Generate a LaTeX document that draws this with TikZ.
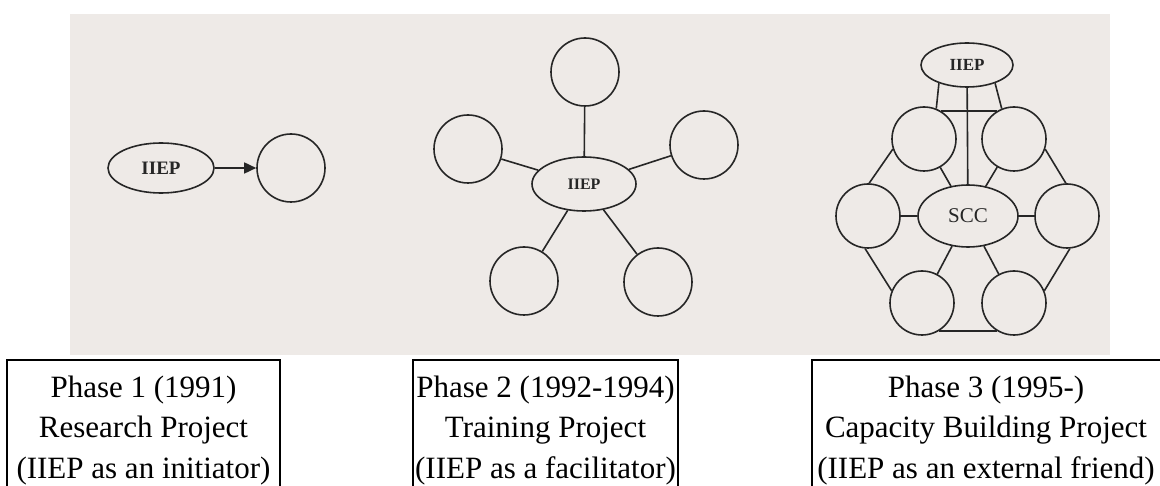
\documentclass[tikz,border=0pt]{standalone}
\usepackage{fontspec}
\setmainfont{Liberation Serif}
\usetikzlibrary{shapes.geometric,arrows.meta}
\definecolor{scan}{RGB}{238,234,231}
\definecolor{ink}{RGB}{38,38,38}
\begin{document}
\begin{tikzpicture}[x=1pt,y=-1pt,
  bub/.style={circle,draw=ink,line width=1.6pt,minimum size=68pt,inner sep=0pt},
  bubs/.style={circle,draw=ink,line width=1.6pt,minimum size=64pt,inner sep=0pt},
  ell/.style={ellipse,draw=ink,line width=1.6pt,inner sep=0pt,text=ink},
  link/.style={draw=ink,line width=1.6pt},
  phasetxt/.style={anchor=base,inner sep=0pt,font=\fontsize{31}{36}\selectfont},
  frame/.style={draw=black,line width=2pt,line join=miter}
]
\useasboundingbox (0,0) rectangle (1160,486);
\fill[scan] (70,14) rectangle (1110,355);

% Phase 1
\node[ell,minimum width=106pt,minimum height=50pt,font=\fontsize{19}{19}\selectfont\bfseries] (e1) at (161,168) {IIEP};
\node[bub] (c1) at (291,168) {};
\draw[link,-{Triangle[length=12pt,width=11pt]}] (e1) -- (c1);

% Phase 2
\node[ell,minimum width=104pt,minimum height=54pt,font=\fontsize{16}{16}\selectfont\bfseries] (e2) at (584,184) {IIEP};
\node[bub] (t2) at (585,72) {};
\node[bub] (l2) at (468,149) {};
\node[bub] (r2) at (704,145) {};
\node[bub] (bl2) at (524,281) {};
\node[bub] (br2) at (658,282) {};
\draw[link] (e2) -- (t2);
\draw[link] (e2) -- (l2);
\draw[link] (e2) -- (r2);
\draw[link] (e2) -- (bl2);
\draw[link] (e2) -- (br2);

% Phase 3
\node[ell,minimum width=92pt,minimum height=44pt,font=\fontsize{17}{17}\selectfont\bfseries] (i3) at (967,65) {IIEP};
\node[ell,minimum width=100pt,minimum height=62pt,font=\fontsize{21}{21}\selectfont] (scc) at (968,216) {SCC};
\node[bubs] (ul) at (924,139) {};
\node[bubs] (ur) at (1014,139) {};
\node[bubs] (l3) at (868,216) {};
\node[bubs] (r3) at (1067,216) {};
\node[bubs] (bl3) at (922,303) {};
\node[bubs] (br3) at (1014,303) {};
\draw[link] (i3) -- (scc);
\draw[link] (i3.213) -- (ul.68);
\draw[link] (i3.327) -- (ur.112);
\draw[link] (ul.58) -- (ur.122);
\draw[link] (ul.198) -- (l3.88);
\draw[link] (ur.342) -- (r3.92);
\draw[link] (l3.265) -- (bl3.158);
\draw[link] (r3.275) -- (br3.22);
\draw[link] (bl3.302) -- (br3.238);
\foreach \n in {ul,ur,l3,r3,bl3,br3} \draw[link] (scc) -- (\n);

% Phase boxes
\draw[frame] (7,486) -- (7,360) -- (280,360) -- (280,486);
\draw[frame] (413,486) -- (413,360) -- (678,360) -- (678,486);
\draw[frame] (812,486) -- (812,360) -- (1160,360);

\node[phasetxt] (p1a) at (143.5,398) {Phase 1 (1991)};
\node[phasetxt] (p1b) at (143.5,438) {Research Project};
\node[phasetxt] (p1c) at (143.5,478) {(IIEP as an initiator)};
\node[phasetxt] (p2a) at (545.5,398) {Phase 2 (1992-1994)};
\node[phasetxt] (p2b) at (545.5,438) {Training Project};
\node[phasetxt] (p2c) at (545.5,478) {(IIEP as a facilitator)};
\node[phasetxt] (p3a) at (986,398) {Phase 3 (1995-)};
\node[phasetxt] (p3b) at (986,438) {Capacity Building Project};
\node[phasetxt] (p3c) at (986,478) {(IIEP as an external friend)};
\end{tikzpicture}
\end{document}
